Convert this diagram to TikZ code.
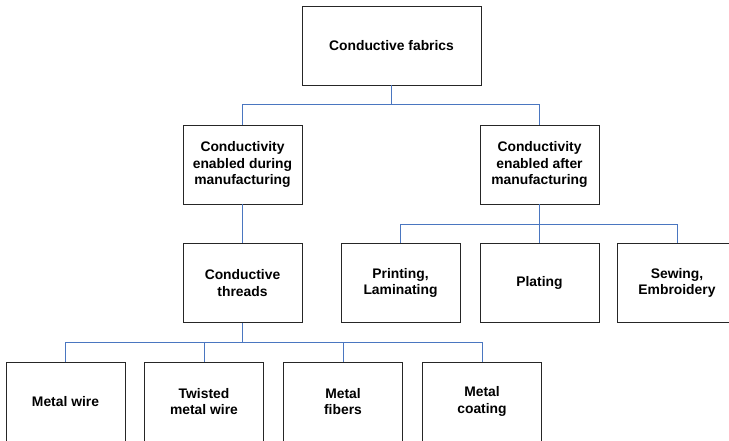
\documentclass[tikz,border=0pt]{standalone}
\usepackage{fontspec}
\setmainfont{Liberation Sans}
\definecolor{conn}{HTML}{4A76C0}
\definecolor{boxline}{HTML}{262626}
\begin{document}
\begin{tikzpicture}[x=0.75pt,y=-0.75pt,
  box/.style={draw=boxline,line width=0.65pt,fill=white,minimum width=89.25pt,minimum height=59.25pt,
    inner sep=0pt,align=center,font=\fontsize{10.4}{12.1}\selectfont\bfseries},
  wide/.style={minimum width=134.25pt},
  wire/.style={draw=conn,line width=0.7pt},
  drop/.style={draw=conn,line width=1.2pt}]
\useasboundingbox (0,0) rectangle (729,441);
% nodes
\node[box,wide] (top) at (391.5,45.5) {Conductive fabrics};
\node[box] (during) at (242.5,164.5) {Conductivity\\enabled during\\manufacturing};
\node[box] (after) at (539.5,164.5) {Conductivity\\enabled after\\manufacturing};
\node[box] (threads) at (242.5,283) {Conductive\\threads};
\node[box] (print) at (400.5,283) {Printing,\\Laminating};
\node[box] (plate) at (539.5,283) {Plating};
\node[box] (sew) at (677,283) {Sewing,\\Embroidery};
\node[box] (wire) at (65.5,401.5) {Metal wire};
\node[box] (twist) at (204,401.5) {Twisted\\metal wire};
\node[box] (fib) at (343,401.5) {Metal\\fibers};
\node[box] (coat) at (482,401.5) {Metal\\coating};
% buses
\coordinate (b1) at (391.5,104.5);
\coordinate (b2) at (539.5,224);
\coordinate (b3) at (242.5,342.5);
\draw[drop] (top.south) -- (b1);
\draw[wire] (b1) -| (during.north);
\draw[wire] (b1) -| (after.north);
\draw[wire] (during.south) -- (threads.north);
\draw[wire] (after.south) -- (b2);
\draw[wire] (b2) -| (print.north);
\draw[wire] (b2) -- (plate.north);
\draw[wire] (b2) -| (sew.north);
\draw[drop] (threads.south) -- (b3);
\draw[wire] (b3) -| (wire.north);
\draw[wire] (b3) -| (twist.north);
\draw[wire] (b3) -| (fib.north);
\draw[wire] (b3) -| (coat.north);
\end{tikzpicture}
\end{document}
